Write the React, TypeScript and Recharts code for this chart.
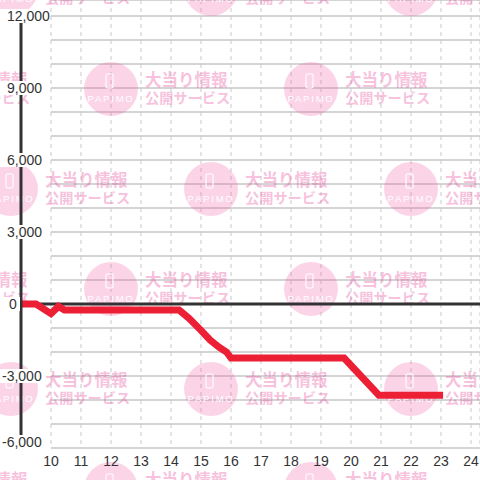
import React from 'react';
import {
  ComposedChart,
  LineChart,
  Line,
  XAxis,
  YAxis,
  CartesianGrid,
  ReferenceLine
} from 'recharts';

// hour of day -> running balance
const HOURS = [9.0, 9.5, 10.0, 10.25, 10.45, 14.27, 14.6, 15.0, 15.3, 15.6, 15.85, 16.0, 19.77, 20.93, 23.07];
const BALANCE = [0, 0, -400, -100, -250, -250, -600, -1100, -1500, -1800, -2000, -2250, -2250, -3800, -3800];

const X_TICKS = [10, 11, 12, 13, 14, 15, 16, 17, 18, 19, 20, 21, 22, 23, 24];
const Y_TICKS = [-6000, -3000, 0, 3000, 6000, 9000, 12000];
const GRID_Y = [-5000, -4000, -3000, -2000, -1000, 0, 1000, 2000, 3000, 4000, 5000, 6000, 7000, 8000, 9000, 10000, 11000, 12000];

const WM_TITLE = '大当り情報';
const WM_SUB = '公開サービス';
const WM_LOGO = 'PAPIMO';

const data = HOURS.map((h, i) => ({ hour: h, value: BALANCE[i] }));

const FONT = '"Liberation Sans", Arial, sans-serif';

const YTick = ({ y, payload }: any) => {
  const v: number = payload.value;
  const label = v.toLocaleString('en-US');
  // keep the bottom label inside the chart
  const cy = Math.min(y, 442);
  const tx = v < 0 ? 2 : v === 0 ? 9 : 7;
  const w = label.replace(/,/g, '').length * 7.8 + (label.match(/,/g) || []).length * 3.9;
  return (
    <g>
      <rect x={0} y={cy - 7} width={Math.max(tx + w, 20)} height={14} fill="#fff" />
      <text x={tx} y={cy} dy={5} textAnchor="start" fontSize={14} fill="#333" fontFamily={FONT}>
        {label}
      </text>
    </g>
  );
};

const Watermark = () => {
  const rows = [-11, 89, 189, 289, 389, 489];
  const marks: React.ReactNode[] = [];
  rows.forEach((ry, ri) => {
    const start = ri % 2 === 0 ? 11 : 111;
    for (let cx = start - 200; cx < 560; cx += 200) {
      marks.push(
        <g key={`${ri}-${cx}`} transform={`translate(${cx},${ry})`}>
          <circle r={27} fill="#f25aa8" opacity={0.26} />
          <rect x={-5} y={-15} width={7} height={14} rx={1.5} fill="none" stroke="#fff" strokeWidth={1.1} />
          <text y={13} textAnchor="middle" fontSize={9.5} letterSpacing={1.8} fill="#fff" fontFamily={FONT}>
            {WM_LOGO}
          </text>
          <g fill="#e8489a" opacity={0.33} fontFamily='"Noto Sans CJK JP", sans-serif' fontWeight="bold">
            <text x={34} y={-3} fontSize={16.5}>{WM_TITLE}</text>
            <text x={34} y={14} fontSize={14.2}>{WM_SUB}</text>
          </g>
        </g>
      );
    }
  });
  return (
    <svg width={480} height={480} style={{ position: 'absolute', left: 0, top: 0 }}>
      {marks}
    </svg>
  );
};

export default function App() {
  return (
    <div style={{ position: 'absolute', left: 0, top: 0, width: 480, height: 480, background: '#fff', overflow: 'hidden' }}>
      {/* grid layer */}
      <div style={{ position: 'absolute', left: 0, top: 0 }}>
        <LineChart width={480} height={480} data={data} margin={{ top: 0, right: 0, bottom: 32, left: 51 }}>
          <XAxis type="number" dataKey="hour" domain={[10, 24.3]} ticks={X_TICKS} allowDataOverflow hide />
          <YAxis type="number" domain={[-6000, 12666.67]} ticks={GRID_Y} allowDataOverflow hide />
          <CartesianGrid vertical={false} stroke="#c6c6c6" strokeWidth={1.5} />
          <CartesianGrid horizontal={false} stroke="#c9c9c9" strokeDasharray="4 4" />
        </LineChart>
      </div>

      <Watermark />

      {/* axes + series layer */}
      <div style={{ position: 'absolute', left: 0, top: 0 }}>
        <ComposedChart width={480} height={480} data={data} margin={{ top: 16, right: 0, bottom: 0, left: 0 }}>
          <XAxis
            type="number"
            dataKey="hour"
            domain={[9, 24.3]}
            ticks={X_TICKS}
            allowDataOverflow
            height={32}
            axisLine={false}
            tickLine={false}
            tick={{ fontSize: 14, fill: '#333', fontFamily: FONT }}
          />
          <YAxis
            type="number"
            width={21}
            domain={[-6000, 12000]}
            ticks={Y_TICKS}
            allowDataOverflow
            axisLine={{ stroke: '#333', strokeWidth: 3 }}
            tickLine={false}
            tick={<YTick />}
          />
          <ReferenceLine y={0} stroke="#333" strokeWidth={3} />
          <Line
            type="linear"
            dataKey="value"
            stroke="#ec1f35"
            strokeWidth={7}
            dot={false}
            activeDot={false}
            isAnimationActive={false}
          />
        </ComposedChart>
      </div>
    </div>
  );
}
